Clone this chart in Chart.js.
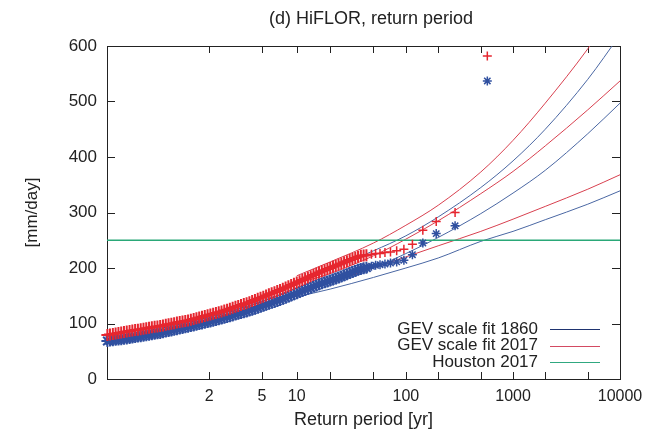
<!DOCTYPE html>
<html>
<head>
<meta charset="utf-8">
<script src="https://cdn.jsdelivr.net/npm/chart.js@4.4.1/dist/chart.umd.min.js"></script>
<style>
  html, body { margin: 0; padding: 0; background: #fff; }
  canvas { display: block; }
</style>
</head>
<body>
<canvas id="chart" width="656" height="436"></canvas>
<script>
// HiFLOR daily rainfall maxima vs return period, Gumbel-scaled x axis

// return periods of the sorted annual maxima (yr)
const returnPeriods = [
  1.002, 1.0028, 1.004, 1.0055, 1.0075, 1.01, 1.0131, 1.0169, 1.0216, 1.0272,
  1.0338, 1.0415, 1.0506, 1.0609, 1.0727, 1.0861, 1.1012, 1.118, 1.1369, 1.1576,
  1.1805, 1.2058, 1.2333, 1.2634, 1.2959, 1.3312, 1.3695, 1.4109, 1.4555, 1.5033,
  1.5548, 1.6101, 1.6694, 1.7327, 1.8005, 1.873, 1.9504, 2.0331, 2.1213, 2.2151,
  2.3151, 2.4217, 2.5351, 2.6563, 2.7848, 2.9218, 3.0675, 3.2221, 3.3872, 3.5626,
  3.7483, 3.9461, 4.156, 4.3797, 4.6167, 4.8683, 5.1358, 5.4208, 5.723, 6.0438,
  6.3852, 6.7474, 7.1322, 7.5406, 7.9745, 8.4352, 8.9247, 9.4439, 9.996, 10.583,
  11.205, 11.866, 12.568, 13.314, 14.106, 14.946, 15.838, 16.786, 17.794, 18.86,
  19.998, 21.199, 22.482, 23.841, 25.281, 26.812, 28.444, 30.168, 31.999, 33.948,
  36.014, 38.21, 40.55, 43.018,
  47.9, 52.3, 57.5, 63.9, 71.9, 82.1, 95.8, 115, 143.8, 191.7, 287.5, 575
];
// annual maximum rainfall (mm/day), 2017 forcing
const rain2017 = [
  79.4, 80.3, 81.2, 82.0, 82.9, 83.7, 84.6, 85.5, 86.4, 87.3,
  88.1, 88.9, 89.8, 90.6, 91.5, 92.3, 93.1, 94.0, 94.8, 95.6,
  96.6, 97.6, 98.6, 99.6, 100.6, 101.6, 102.6, 103.6, 104.6, 105.6,
  106.7, 108.1, 109.4, 110.8, 112.1, 113.4, 114.7, 116.1, 117.4, 118.8,
  120.1, 121.7, 123.3, 125.0, 126.7, 128.4, 130.1, 131.7, 133.4, 135.1,
  136.7, 138.4, 140.4, 142.4, 144.4, 146.4, 148.4, 150.5, 152.5, 154.5,
  156.5, 158.5, 160.5, 162.8, 165.0, 167.3, 169.5, 171.8, 174.0, 176.3,
  178.5, 180.8, 183.0, 185.3, 187.5, 189.8, 192.1, 194.2, 196.1, 198.1,
  200.1, 202.2, 204.2, 206.2, 208.2, 210.2, 212.2, 214.2, 216.2, 218.2,
  220.2, 221.9, 222.5, 223.0,
  225, 226, 226, 228, 229, 231, 234, 243, 268, 284, 300, 582
];
// annual maximum rainfall (mm/day), 1860 forcing
const rain1860 = [
  68.6, 69.2, 69.9, 70.5, 71.2, 71.8, 72.5, 73.1, 73.8, 74.7,
  75.5, 76.4, 77.2, 78.1, 78.9, 79.7, 80.6, 81.4, 82.3, 83.1,
  84.2, 85.4, 86.5, 87.6, 88.7, 89.8, 91.0, 92.1, 93.2, 94.3,
  95.4, 96.6, 97.8, 99.0, 100.2, 101.4, 102.6, 103.8, 105.0, 106.3,
  107.5, 108.8, 110.3, 111.7, 113.2, 114.6, 116.1, 117.5, 118.9, 120.4,
  121.8, 123.3, 124.9, 126.7, 128.4, 130.2, 131.9, 133.7, 135.4, 137.2,
  138.9, 140.7, 142.4, 144.5, 146.5, 148.5, 150.5, 152.5, 154.6, 156.6,
  158.5, 160.5, 162.5, 164.5, 166.5, 168.6, 170.6, 172.4, 174.1, 175.9,
  177.6, 179.4, 181.2, 183.1, 184.8, 186.8, 188.8, 190.8, 192.8, 194.8,
  196.9, 198.4, 199.5, 200.6,
  203, 205, 206, 207, 209, 211, 214, 224, 245, 262, 276, 537
];

// GEV scale fits: central estimate and bounds
const fitPeriods = [10, 20, 50, 100, 200, 500, 1000, 2000, 5000, 10000];
const fit2017 = [172, 190, 222, 252, 285, 334, 374, 420, 485, 537];
const fit2017Upper = [186, 211, 245, 277, 313, 373, 430, 497, 595, 680];
const fit2017Lower = [158, 175, 200, 220, 240, 266, 288, 311, 342, 368];
const fit1860 = [157, 172, 200, 226, 255, 298, 335, 376, 442, 497];
const fit1860Upper = [176, 198, 231, 258, 292, 345, 393, 450, 540, 620];
const fit1860Lower = [148, 162, 183, 200, 218, 248, 266, 287, 315, 339];

const houston2017 = 250;

const tickPeriods = [2, 5, 10, 20, 50, 100, 200, 500, 1000, 2000, 5000, 10000];
const labelPeriods = [2, 5, 10, 100, 1000, 10000];
const periodMin = 1.0019;
const periodMax = 10000;

const FONT = '"Liberation Sans", Arial, sans-serif';
const TEXT = '#222';
const RED = '#e6262f';
const BLUE = '#3050a0';
const RED_LINE = '#d8404f';
const BLUE_LINE = '#4a67a3';
const GREEN = '#2aa878';

// Gumbel reduced variate of a return period
const gumbel = t => -Math.log(-Math.log(1 - 1 / t));

const toPoints = (periods, values) => periods.map((t, i) => ({ x: gumbel(t), y: values[i] }));

function fitLine(values, color, label) {
  return {
    label,
    data: toPoints(fitPeriods, values),
    showLine: true,
    borderColor: color,
    borderWidth: 1,
    pointRadius: 0,
    cubicInterpolationMode: 'monotone',
    order: 5
  };
}

// the many low return period maxima overlap into a solid band
const isDense = ctx => returnPeriods[ctx.dataIndex] < 45;
const markerSize = ctx => isDense(ctx) ? 6 : 4.5;
const markerWidth = ctx => isDense(ctx) ? 2 : 1.5;

const datasets = [
  {
    label: 'HiFLOR 2017',
    data: toPoints(returnPeriods, rain2017),
    pointStyle: 'cross',
    pointRadius: markerSize,
    pointBorderWidth: markerWidth,
    borderColor: RED,
    backgroundColor: RED,
    clip: false,
    order: 1
  },
  {
    label: 'HiFLOR 1860',
    data: toPoints(returnPeriods, rain1860),
    pointStyle: 'star',
    pointRadius: markerSize,
    pointBorderWidth: markerWidth,
    borderColor: BLUE,
    backgroundColor: BLUE,
    clip: false,
    order: 2
  },
  fitLine(fit1860, BLUE_LINE, 'GEV scale fit 1860'),
  fitLine(fit1860Upper, BLUE_LINE, ''),
  fitLine(fit1860Lower, BLUE_LINE, ''),
  fitLine(fit2017, RED_LINE, 'GEV scale fit 2017'),
  fitLine(fit2017Upper, RED_LINE, ''),
  fitLine(fit2017Lower, RED_LINE, ''),
  {
    label: 'Houston 2017',
    data: [{ x: gumbel(periodMin), y: houston2017 }, { x: gumbel(periodMax), y: houston2017 }],
    showLine: true,
    borderColor: GREEN,
    borderWidth: 1.5,
    pointRadius: 0,
    order: 4
  }
];

// gnuplot-like border with inward ticks on all four sides
const frameTicks = {
  id: 'frameTicks',
  beforeDatasetsDraw(chart) {
    const { ctx, chartArea: a, scales: { x, y } } = chart;
    ctx.save();
    ctx.strokeStyle = '#222';
    ctx.lineWidth = 1;
    ctx.strokeRect(a.left + 0.5, a.top + 0.5, a.right - a.left, a.bottom - a.top);
    ctx.beginPath();
    tickPeriods.forEach(t => {
      const px = Math.round(x.getPixelForValue(gumbel(t))) + 0.5;
      if (px > a.right - 1) return;
      ctx.moveTo(px, a.bottom);
      ctx.lineTo(px, a.bottom - 7);
      ctx.moveTo(px, a.top);
      ctx.lineTo(px, a.top + 7);
    });
    for (let v = 100; v < 600; v += 100) {
      const py = Math.round(y.getPixelForValue(v)) + 0.5;
      ctx.moveTo(a.left, py);
      ctx.lineTo(a.left + 8, py);
      ctx.moveTo(a.right, py);
      ctx.lineTo(a.right - 8, py);
    }
    ctx.stroke();
    ctx.restore();
  }
};

// title and key (text right-aligned, line sample after it)
const titleAndKey = {
  id: 'titleAndKey',
  afterDraw(chart) {
    const { ctx } = chart;
    ctx.save();
    ctx.fillStyle = TEXT;
    ctx.font = '18px ' + FONT;
    ctx.textAlign = 'center';
    ctx.textBaseline = 'middle';
    ctx.fillText('(d) HiFLOR, return period', 371, 19);

    const keys = [
      ['GEV scale fit 1860', '#1f3470'],
      ['GEV scale fit 2017', '#d34a62'],
      ['Houston 2017', '#30a880']
    ];
    ctx.font = '17px ' + FONT;
    ctx.textAlign = 'right';
    keys.forEach(([text, color], i) => {
      const yy = 329 + i * 16.5;
      ctx.fillStyle = TEXT;
      ctx.fillText(text, 538, yy);
      ctx.strokeStyle = color;
      ctx.lineWidth = 1.2;
      ctx.beginPath();
      ctx.moveTo(550, Math.round(yy) + 0.5);
      ctx.lineTo(600, Math.round(yy) + 0.5);
      ctx.stroke();
    });
    ctx.restore();
  }
};

new Chart(document.getElementById('chart'), {
  type: 'scatter',
  data: { datasets },
  options: {
    responsive: false,
    animation: false,
    layout: { padding: { top: 46, right: 36, left: 0, bottom: 0 } },
    plugins: {
      legend: { display: false },
      tooltip: { enabled: false }
    },
    scales: {
      x: {
        type: 'linear',
        min: gumbel(periodMin),
        max: gumbel(periodMax),
        afterBuildTicks: axis => {
          axis.ticks = tickPeriods.map(t => ({ value: gumbel(t) }));
        },
        afterFit: axis => { axis.height = 57; },
        ticks: {
          autoSkip: false,
          maxRotation: 0,
          padding: 8,
          color: TEXT,
          font: { family: FONT, size: 16 },
          callback: (v, i) => labelPeriods.includes(tickPeriods[i]) ? String(tickPeriods[i]) : ''
        },
        grid: { display: false, drawTicks: false },
        border: { display: false },
        title: {
          display: true,
          text: 'Return period [yr]',
          color: TEXT,
          font: { family: FONT, size: 18 },
          padding: { top: 0, bottom: 5 }
        }
      },
      y: {
        min: 0,
        max: 600,
        afterFit: axis => { axis.width = 107; },
        ticks: {
          stepSize: 100,
          padding: 10,
          color: TEXT,
          font: { family: FONT, size: 17 }
        },
        grid: { display: false, drawTicks: false },
        border: { display: false },
        title: {
          display: true,
          text: '[mm/day]',
          color: TEXT,
          font: { family: FONT, size: 17 },
          padding: { top: 22, bottom: 0 }
        }
      }
    }
  },
  plugins: [frameTicks, titleAndKey]
});
</script>
</body>
</html>
